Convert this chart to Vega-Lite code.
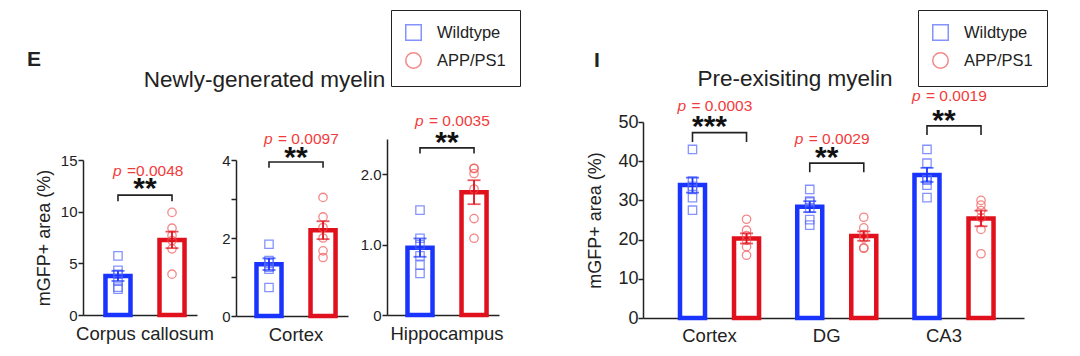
{
  "$schema": "https://vega.github.io/schema/vega-lite/v6.json",
  "background": "white",
  "padding": {"left": 27, "top": 9, "right": 5, "bottom": 5},
  "bounds": "flush",
  "spacing": 39,
  "config": {
    "font": "Liberation Sans",
    "view": {"stroke": null},
    "axis": {"grid": false, "labelOverlap": false, "domainColor": "#222", "domainWidth": 1.5, "tickColor": "#222", "tickWidth": 1.5, "tickSize": 5, "labelColor": "#222", "titleColor": "#222", "labelFont": "Liberation Sans", "titleFont": "Liberation Sans", "titleFontWeight": "normal"},
    "title": {"color": "#222", "font": "Liberation Sans"},
    "legend": {"strokeColor": "#222", "padding": 14, "symbolSize": 240, "symbolStrokeWidth": 1.5, "labelFontSize": 16.5, "labelColor": "#222", "labelFont": "Liberation Sans", "labelOffset": 15, "rowPadding": 5}
  },
  "resolve": {"scale": {"color": "independent", "shape": "independent", "stroke": "independent", "fill": "independent"}, "legend": {"color": "independent", "shape": "independent"}},
  "datasets": {
    "pts": [
      {"panel": "E1", "region": "Corpus callosum", "genotype": "Wildtype", "value": 5.72},
      {"panel": "E1", "region": "Corpus callosum", "genotype": "Wildtype", "value": 4.33},
      {"panel": "E1", "region": "Corpus callosum", "genotype": "Wildtype", "value": 3.94},
      {"panel": "E1", "region": "Corpus callosum", "genotype": "Wildtype", "value": 3.3},
      {"panel": "E1", "region": "Corpus callosum", "genotype": "Wildtype", "value": 2.7},
      {"panel": "E1", "region": "Corpus callosum", "genotype": "Wildtype", "value": 2.5},
      {"panel": "E1", "region": "Corpus callosum", "genotype": "APP/PS1", "value": 9.93},
      {"panel": "E1", "region": "Corpus callosum", "genotype": "APP/PS1", "value": 8.4},
      {"panel": "E1", "region": "Corpus callosum", "genotype": "APP/PS1", "value": 7.7},
      {"panel": "E1", "region": "Corpus callosum", "genotype": "APP/PS1", "value": 7.2},
      {"panel": "E1", "region": "Corpus callosum", "genotype": "APP/PS1", "value": 6.4},
      {"panel": "E1", "region": "Corpus callosum", "genotype": "APP/PS1", "value": 3.95},
      {"panel": "E2", "region": "Cortex", "genotype": "Wildtype", "value": 1.84},
      {"panel": "E2", "region": "Cortex", "genotype": "Wildtype", "value": 1.42},
      {"panel": "E2", "region": "Cortex", "genotype": "Wildtype", "value": 1.35},
      {"panel": "E2", "region": "Cortex", "genotype": "Wildtype", "value": 1.25},
      {"panel": "E2", "region": "Cortex", "genotype": "Wildtype", "value": 1.2},
      {"panel": "E2", "region": "Cortex", "genotype": "Wildtype", "value": 0.73},
      {"panel": "E2", "region": "Cortex", "genotype": "APP/PS1", "value": 3.04},
      {"panel": "E2", "region": "Cortex", "genotype": "APP/PS1", "value": 2.54},
      {"panel": "E2", "region": "Cortex", "genotype": "APP/PS1", "value": 2.27},
      {"panel": "E2", "region": "Cortex", "genotype": "APP/PS1", "value": 2.0},
      {"panel": "E2", "region": "Cortex", "genotype": "APP/PS1", "value": 1.67},
      {"panel": "E2", "region": "Cortex", "genotype": "APP/PS1", "value": 1.5},
      {"panel": "E3", "region": "Hippocampus", "genotype": "Wildtype", "value": 1.49},
      {"panel": "E3", "region": "Hippocampus", "genotype": "Wildtype", "value": 1.09},
      {"panel": "E3", "region": "Hippocampus", "genotype": "Wildtype", "value": 1.0},
      {"panel": "E3", "region": "Hippocampus", "genotype": "Wildtype", "value": 0.84},
      {"panel": "E3", "region": "Hippocampus", "genotype": "Wildtype", "value": 0.71},
      {"panel": "E3", "region": "Hippocampus", "genotype": "Wildtype", "value": 0.59},
      {"panel": "E3", "region": "Hippocampus", "genotype": "APP/PS1", "value": 2.085},
      {"panel": "E3", "region": "Hippocampus", "genotype": "APP/PS1", "value": 2.08},
      {"panel": "E3", "region": "Hippocampus", "genotype": "APP/PS1", "value": 2.01},
      {"panel": "E3", "region": "Hippocampus", "genotype": "APP/PS1", "value": 1.79},
      {"panel": "E3", "region": "Hippocampus", "genotype": "APP/PS1", "value": 1.37},
      {"panel": "E3", "region": "Hippocampus", "genotype": "APP/PS1", "value": 1.09},
      {"panel": "I", "region": "Cortex", "genotype": "Wildtype", "value": 43.0},
      {"panel": "I", "region": "Cortex", "genotype": "Wildtype", "value": 34.9},
      {"panel": "I", "region": "Cortex", "genotype": "Wildtype", "value": 33.6},
      {"panel": "I", "region": "Cortex", "genotype": "Wildtype", "value": 32.8},
      {"panel": "I", "region": "Cortex", "genotype": "Wildtype", "value": 30.7},
      {"panel": "I", "region": "Cortex", "genotype": "Wildtype", "value": 27.5},
      {"panel": "I", "region": "Cortex", "genotype": "APP/PS1", "value": 25.2},
      {"panel": "I", "region": "Cortex", "genotype": "APP/PS1", "value": 22.4},
      {"panel": "I", "region": "Cortex", "genotype": "APP/PS1", "value": 21.0},
      {"panel": "I", "region": "Cortex", "genotype": "APP/PS1", "value": 19.8},
      {"panel": "I", "region": "Cortex", "genotype": "APP/PS1", "value": 18.2},
      {"panel": "I", "region": "Cortex", "genotype": "APP/PS1", "value": 16.0},
      {"panel": "I", "region": "DG", "genotype": "Wildtype", "value": 32.8},
      {"panel": "I", "region": "DG", "genotype": "Wildtype", "value": 29.8},
      {"panel": "I", "region": "DG", "genotype": "Wildtype", "value": 29.6},
      {"panel": "I", "region": "DG", "genotype": "Wildtype", "value": 28.1},
      {"panel": "I", "region": "DG", "genotype": "Wildtype", "value": 25.1},
      {"panel": "I", "region": "DG", "genotype": "Wildtype", "value": 23.7},
      {"panel": "I", "region": "DG", "genotype": "APP/PS1", "value": 25.7},
      {"panel": "I", "region": "DG", "genotype": "APP/PS1", "value": 23.0},
      {"panel": "I", "region": "DG", "genotype": "APP/PS1", "value": 21.3},
      {"panel": "I", "region": "DG", "genotype": "APP/PS1", "value": 20.4},
      {"panel": "I", "region": "DG", "genotype": "APP/PS1", "value": 17.9},
      {"panel": "I", "region": "DG", "genotype": "APP/PS1", "value": 17.8},
      {"panel": "I", "region": "CA3", "genotype": "Wildtype", "value": 43.0},
      {"panel": "I", "region": "CA3", "genotype": "Wildtype", "value": 39.5},
      {"panel": "I", "region": "CA3", "genotype": "Wildtype", "value": 35.3},
      {"panel": "I", "region": "CA3", "genotype": "Wildtype", "value": 35.2},
      {"panel": "I", "region": "CA3", "genotype": "Wildtype", "value": 33.9},
      {"panel": "I", "region": "CA3", "genotype": "Wildtype", "value": 30.7},
      {"panel": "I", "region": "CA3", "genotype": "APP/PS1", "value": 30.0},
      {"panel": "I", "region": "CA3", "genotype": "APP/PS1", "value": 28.8},
      {"panel": "I", "region": "CA3", "genotype": "APP/PS1", "value": 27.4},
      {"panel": "I", "region": "CA3", "genotype": "APP/PS1", "value": 25.6},
      {"panel": "I", "region": "CA3", "genotype": "APP/PS1", "value": 22.6},
      {"panel": "I", "region": "CA3", "genotype": "APP/PS1", "value": 16.4}
    ],
    "bars": [
      {"panel": "E1", "region": "Corpus callosum", "genotype": "Wildtype", "mean": 3.78, "lo": 3.29, "hi": 4.27},
      {"panel": "E1", "region": "Corpus callosum", "genotype": "APP/PS1", "mean": 7.27, "lo": 6.47, "hi": 8.07},
      {"panel": "E2", "region": "Cortex", "genotype": "Wildtype", "mean": 1.33, "lo": 1.18, "hi": 1.48},
      {"panel": "E2", "region": "Cortex", "genotype": "APP/PS1", "mean": 2.2, "lo": 1.97, "hi": 2.43},
      {"panel": "E3", "region": "Hippocampus", "genotype": "Wildtype", "mean": 0.957, "lo": 0.827, "hi": 1.087},
      {"panel": "E3", "region": "Hippocampus", "genotype": "APP/PS1", "mean": 1.744, "lo": 1.574, "hi": 1.914},
      {"panel": "I", "region": "Cortex", "genotype": "Wildtype", "mean": 33.9, "lo": 32.0, "hi": 35.8},
      {"panel": "I", "region": "Cortex", "genotype": "APP/PS1", "mean": 20.3, "lo": 19.0, "hi": 21.6},
      {"panel": "I", "region": "DG", "genotype": "Wildtype", "mean": 28.4, "lo": 27.0, "hi": 29.8},
      {"panel": "I", "region": "DG", "genotype": "APP/PS1", "mean": 20.9, "lo": 19.7, "hi": 22.1},
      {"panel": "I", "region": "CA3", "genotype": "Wildtype", "mean": 36.5, "lo": 34.7, "hi": 38.3},
      {"panel": "I", "region": "CA3", "genotype": "APP/PS1", "mean": 25.4, "lo": 23.4, "hi": 27.4}
    ],
    "brk": [
      {"panel": "E1", "region": "Corpus callosum", "genotype": "Wildtype", "y": 11.0, "ord": 0},
      {"panel": "E1", "region": "Corpus callosum", "genotype": "Wildtype", "y": 11.6, "ord": 1},
      {"panel": "E1", "region": "Corpus callosum", "genotype": "APP/PS1", "y": 11.6, "ord": 2},
      {"panel": "E1", "region": "Corpus callosum", "genotype": "APP/PS1", "y": 11.0, "ord": 3},
      {"panel": "E2", "region": "Cortex", "genotype": "Wildtype", "y": 3.8, "ord": 0},
      {"panel": "E2", "region": "Cortex", "genotype": "Wildtype", "y": 3.95, "ord": 1},
      {"panel": "E2", "region": "Cortex", "genotype": "APP/PS1", "y": 3.95, "ord": 2},
      {"panel": "E2", "region": "Cortex", "genotype": "APP/PS1", "y": 3.8, "ord": 3},
      {"panel": "E3", "region": "Hippocampus", "genotype": "Wildtype", "y": 2.295, "ord": 0},
      {"panel": "E3", "region": "Hippocampus", "genotype": "Wildtype", "y": 2.374, "ord": 1},
      {"panel": "E3", "region": "Hippocampus", "genotype": "APP/PS1", "y": 2.374, "ord": 2},
      {"panel": "E3", "region": "Hippocampus", "genotype": "APP/PS1", "y": 2.295, "ord": 3},
      {"panel": "I", "region": "Cortex", "genotype": "Wildtype", "y": 44.9, "ord": 0},
      {"panel": "I", "region": "Cortex", "genotype": "Wildtype", "y": 47.3, "ord": 1},
      {"panel": "I", "region": "Cortex", "genotype": "APP/PS1", "y": 47.3, "ord": 2},
      {"panel": "I", "region": "Cortex", "genotype": "APP/PS1", "y": 44.9, "ord": 3},
      {"panel": "I", "region": "DG", "genotype": "Wildtype", "y": 37.2, "ord": 0},
      {"panel": "I", "region": "DG", "genotype": "Wildtype", "y": 39.5, "ord": 1},
      {"panel": "I", "region": "DG", "genotype": "APP/PS1", "y": 39.5, "ord": 2},
      {"panel": "I", "region": "DG", "genotype": "APP/PS1", "y": 37.2, "ord": 3},
      {"panel": "I", "region": "CA3", "genotype": "Wildtype", "y": 46.7, "ord": 0},
      {"panel": "I", "region": "CA3", "genotype": "Wildtype", "y": 49.0, "ord": 1},
      {"panel": "I", "region": "CA3", "genotype": "APP/PS1", "y": 49.0, "ord": 2},
      {"panel": "I", "region": "CA3", "genotype": "APP/PS1", "y": 46.7, "ord": 3}
    ],
    "lab": [
      {"panel": "E1", "region": "Corpus callosum", "stars": "**", "ys": 12.48, "p": "=0.0048", "yp": 13.45},
      {"panel": "E2", "region": "Cortex", "stars": "**", "ys": 4.13, "p": "= 0.0097", "yp": 4.4},
      {"panel": "E3", "region": "Hippocampus", "stars": "**", "ys": 2.48, "p": "= 0.0035", "yp": 2.68},
      {"panel": "I", "region": "Cortex", "stars": "***", "ys": 49.4, "p": "= 0.0003", "yp": 52.8},
      {"panel": "I", "region": "DG", "stars": "**", "ys": 41.5, "p": "= 0.0029", "yp": 44.4},
      {"panel": "I", "region": "CA3", "stars": "**", "ys": 50.9, "p": "= 0.0019", "yp": 55.4}
    ]
  },
  "hconcat": [
    {
      "width": 114, "height": 193,
      "title": {"text": "E", "anchor": "start", "frame": "group", "dx": -56, "offset": 52, "fontSize": 21, "fontWeight": "bold"},
      "layer": [
        {"data": {"name": "bars"}, "transform": [{"filter": "datum.panel === 'E1'"}],
         "mark": {"type": "bar", "fill": "white", "strokeWidth": 4.5},
         "encoding": {
           "x": {"field": "region", "type": "nominal", "scale": {"paddingInner": 0, "paddingOuter": 0.048, "align": 1}, "axis": {"title": null, "ticks": false, "labelAngle": 0, "labelFontSize": 18.5, "labelPadding": 9}},
           "xOffset": {"field": "genotype", "type": "nominal", "scale": {"domain": ["Wildtype", "APP/PS1"], "paddingInner": 0.537, "paddingOuter": 0.231}},
           "y": {"field": "mean", "type": "quantitative", "scale": {"domain": [0, 15], "range": [193, 38], "nice": false}, "axis": {"values": [0, 5, 10, 15], "labelOverlap": false, "title": "mGFP+ area (%)", "titleFontSize": 18, "titlePadding": 7, "labelFontSize": 15, "labelPadding": 1}},
           "stroke": {"field": "genotype", "type": "nominal", "scale": {"domain": ["APP/PS1", "Wildtype"], "range": ["#e0101c", "#1a34ff"]}, "legend": null}
         }},
        {"data": {"name": "pts"}, "transform": [{"filter": "datum.panel === 'E1'"}],
         "mark": {"type": "point", "filled": false, "size": 70, "strokeWidth": 1.3},
         "encoding": {
           "x": {"field": "region", "type": "nominal"},
           "xOffset": {"field": "genotype", "type": "nominal"},
           "y": {"field": "value", "type": "quantitative"},
           "color": {"field": "genotype", "type": "nominal", "scale": {"domain": ["Wildtype", "APP/PS1"], "range": ["#5266ff", "#f25555"]}, "legend": null},
           "shape": {"field": "genotype", "type": "nominal", "scale": {"domain": ["Wildtype", "APP/PS1"], "range": ["square", "circle"]}, "legend": null}
         }},
        {"data": {"name": "bars"}, "transform": [{"filter": "datum.panel === 'E1'"}],
         "mark": {"type": "rule", "strokeWidth": 1.8},
         "encoding": {
           "x": {"field": "region", "type": "nominal"},
           "xOffset": {"field": "genotype", "type": "nominal"},
           "y": {"field": "lo", "type": "quantitative"}, "y2": {"field": "hi"},
           "stroke": {"field": "genotype", "type": "nominal", "legend": null}
         }},
        {"data": {"name": "bars"}, "transform": [{"filter": "datum.panel === 'E1'"}],
         "mark": {"type": "tick", "size": 13, "thickness": 1.8},
         "encoding": {
           "x": {"field": "region", "type": "nominal"},
           "xOffset": {"field": "genotype", "type": "nominal"},
           "y": {"field": "hi", "type": "quantitative"},
           "fill": {"field": "genotype", "type": "nominal", "scale": {"domain": ["APP/PS1", "Wildtype"], "range": ["#e0101c", "#1a34ff"]}, "legend": null}
         }},
        {"data": {"name": "bars"}, "transform": [{"filter": "datum.panel === 'E1'"}],
         "mark": {"type": "tick", "size": 13, "thickness": 1.8},
         "encoding": {
           "x": {"field": "region", "type": "nominal"},
           "xOffset": {"field": "genotype", "type": "nominal"},
           "y": {"field": "lo", "type": "quantitative"},
           "fill": {"field": "genotype", "type": "nominal", "legend": null}
         }},
        {"data": {"name": "brk"}, "transform": [{"filter": "datum.panel === 'E1'"}],
         "mark": {"type": "line", "color": "#222", "strokeWidth": 1.6},
         "encoding": {
           "x": {"field": "region", "type": "nominal"},
           "xOffset": {"field": "genotype", "type": "nominal"},
           "y": {"field": "y", "type": "quantitative"},
           "detail": {"field": "region"},
           "order": {"field": "ord", "type": "quantitative"}
         }},
        {"data": {"name": "lab"}, "transform": [{"filter": "datum.panel === 'E1'"}],
         "mark": {"type": "text", "fontSize": 30, "fontWeight": "bold", "dy": 12, "baseline": "alphabetic", "align": "center", "color": "#111"},
         "encoding": {"x": {"field": "region", "type": "nominal"}, "y": {"field": "ys", "type": "quantitative"}, "text": {"field": "stars"}}},
        {"data": {"name": "lab"}, "transform": [{"filter": "datum.panel === 'E1'"}],
         "mark": {"type": "text", "fontSize": 15.5, "fontStyle": "italic", "dx": -32, "baseline": "alphabetic", "align": "left", "color": "#f23b3b"},
         "encoding": {"x": {"field": "region", "type": "nominal"}, "y": {"field": "yp", "type": "quantitative"}, "text": {"value": "p"}}},
        {"data": {"name": "lab"}, "transform": [{"filter": "datum.panel === 'E1'"}],
         "mark": {"type": "text", "fontSize": 15.5, "dx": -18, "baseline": "alphabetic", "align": "left", "color": "#f23b3b"},
         "encoding": {"x": {"field": "region", "type": "nominal"}, "y": {"field": "yp", "type": "quantitative"}, "text": {"field": "p"}}}
      ]
    },
    {
      "width": 112, "height": 194,
      "title": {"text": "Newly-generated myelin", "anchor": "middle", "frame": "group", "dx": -27.5, "offset": 31, "fontSize": 22.5, "fontWeight": "normal"},
      "layer": [
        {"data": {"name": "bars"}, "transform": [{"filter": "datum.panel === 'E2'"}],
         "mark": {"type": "bar", "fill": "white", "strokeWidth": 4.5},
         "encoding": {
           "x": {"field": "region", "type": "nominal", "scale": {"paddingInner": 0, "paddingOuter": 0.0385, "align": 1}, "axis": {"title": null, "ticks": false, "labelAngle": 0, "labelFontSize": 18.5, "labelPadding": 9}},
           "xOffset": {"field": "genotype", "type": "nominal", "scale": {"domain": ["Wildtype", "APP/PS1"], "paddingInner": 0.537, "paddingOuter": 0.231}},
           "y": {"field": "mean", "type": "quantitative", "scale": {"domain": [0, 4], "range": [194, 38], "nice": false}, "axis": {"values": [0, 1, 2, 3, 4], "labelOverlap": false, "labelExpr": "datum.value % 2 === 0 ? datum.label : ''", "title": null, "labelFontSize": 15, "labelPadding": 1}},
           "stroke": {"field": "genotype", "type": "nominal", "scale": {"domain": ["APP/PS1", "Wildtype"], "range": ["#e0101c", "#1a34ff"]}, "legend": null}
         }},
        {"data": {"name": "pts"}, "transform": [{"filter": "datum.panel === 'E2'"}],
         "mark": {"type": "point", "filled": false, "size": 70, "strokeWidth": 1.3},
         "encoding": {
           "x": {"field": "region", "type": "nominal"},
           "xOffset": {"field": "genotype", "type": "nominal"},
           "y": {"field": "value", "type": "quantitative"},
           "color": {"field": "genotype", "type": "nominal", "scale": {"domain": ["Wildtype", "APP/PS1"], "range": ["#5266ff", "#f25555"]}, "legend": null},
           "shape": {"field": "genotype", "type": "nominal", "scale": {"domain": ["Wildtype", "APP/PS1"], "range": ["square", "circle"]}, "legend": null}
         }},
        {"data": {"name": "bars"}, "transform": [{"filter": "datum.panel === 'E2'"}],
         "mark": {"type": "rule", "strokeWidth": 1.8},
         "encoding": {
           "x": {"field": "region", "type": "nominal"},
           "xOffset": {"field": "genotype", "type": "nominal"},
           "y": {"field": "lo", "type": "quantitative"}, "y2": {"field": "hi"},
           "stroke": {"field": "genotype", "type": "nominal", "legend": null}
         }},
        {"data": {"name": "bars"}, "transform": [{"filter": "datum.panel === 'E2'"}],
         "mark": {"type": "tick", "size": 13, "thickness": 1.8},
         "encoding": {
           "x": {"field": "region", "type": "nominal"},
           "xOffset": {"field": "genotype", "type": "nominal"},
           "y": {"field": "hi", "type": "quantitative"},
           "fill": {"field": "genotype", "type": "nominal", "scale": {"domain": ["APP/PS1", "Wildtype"], "range": ["#e0101c", "#1a34ff"]}, "legend": null}
         }},
        {"data": {"name": "bars"}, "transform": [{"filter": "datum.panel === 'E2'"}],
         "mark": {"type": "tick", "size": 13, "thickness": 1.8},
         "encoding": {
           "x": {"field": "region", "type": "nominal"},
           "xOffset": {"field": "genotype", "type": "nominal"},
           "y": {"field": "lo", "type": "quantitative"},
           "fill": {"field": "genotype", "type": "nominal", "legend": null}
         }},
        {"data": {"name": "brk"}, "transform": [{"filter": "datum.panel === 'E2'"}],
         "mark": {"type": "line", "color": "#222", "strokeWidth": 1.6},
         "encoding": {
           "x": {"field": "region", "type": "nominal"},
           "xOffset": {"field": "genotype", "type": "nominal"},
           "y": {"field": "y", "type": "quantitative"},
           "detail": {"field": "region"},
           "order": {"field": "ord", "type": "quantitative"}
         }},
        {"data": {"name": "lab"}, "transform": [{"filter": "datum.panel === 'E2'"}],
         "mark": {"type": "text", "fontSize": 30, "fontWeight": "bold", "dy": 12, "baseline": "alphabetic", "align": "center", "color": "#111"},
         "encoding": {"x": {"field": "region", "type": "nominal"}, "y": {"field": "ys", "type": "quantitative"}, "text": {"field": "stars"}}},
        {"data": {"name": "lab"}, "transform": [{"filter": "datum.panel === 'E2'"}],
         "mark": {"type": "text", "fontSize": 15.5, "fontStyle": "italic", "dx": -32, "baseline": "alphabetic", "align": "left", "color": "#f23b3b"},
         "encoding": {"x": {"field": "region", "type": "nominal"}, "y": {"field": "yp", "type": "quantitative"}, "text": {"value": "p"}}},
        {"data": {"name": "lab"}, "transform": [{"filter": "datum.panel === 'E2'"}],
         "mark": {"type": "text", "fontSize": 15.5, "dx": -18, "baseline": "alphabetic", "align": "left", "color": "#f23b3b"},
         "encoding": {"x": {"field": "region", "type": "nominal"}, "y": {"field": "yp", "type": "quantitative"}, "text": {"field": "p"}}}
      ]
    },
    {
      "width": 217, "height": 193,
      "title": {"text": "I", "anchor": "start", "frame": "group", "dx": 207, "offset": -61, "fontSize": 21, "fontWeight": "bold"},
      "layer": [
        {"data": {"name": "bars"}, "transform": [{"filter": "datum.panel === 'E3'"}],
         "mark": {"type": "bar", "fill": "white", "strokeWidth": 4.5},
         "encoding": {
           "x": {"field": "region", "type": "nominal", "scale": {"paddingInner": 0, "paddingOuter": 0.0385, "align": 1, "range": [0, 112]}, "axis": {"title": null, "ticks": false, "labelAngle": 0, "labelFontSize": 18.5, "labelPadding": 9}},
           "xOffset": {"field": "genotype", "type": "nominal", "scale": {"domain": ["Wildtype", "APP/PS1"], "paddingInner": 0.537, "paddingOuter": 0.231}},
           "y": {"field": "mean", "type": "quantitative", "scale": {"domain": [0, 2.5], "range": [193, 17], "nice": false}, "axis": {"values": [0, 0.5, 1, 1.5, 2, 2.5], "labelOverlap": false, "labelExpr": "datum.value === 0 ? '0' : ((datum.value === 1 || datum.value === 2) ? format(datum.value, '.1f') : '')", "title": null, "labelFontSize": 15, "labelPadding": 1}},
           "stroke": {"field": "genotype", "type": "nominal", "scale": {"domain": ["APP/PS1", "Wildtype"], "range": ["#e0101c", "#1a34ff"]}, "legend": null}
         }},
        {"data": {"name": "pts"}, "transform": [{"filter": "datum.panel === 'E3'"}],
         "mark": {"type": "point", "filled": false, "size": 70, "strokeWidth": 1.3},
         "encoding": {
           "x": {"field": "region", "type": "nominal"},
           "xOffset": {"field": "genotype", "type": "nominal"},
           "y": {"field": "value", "type": "quantitative"},
           "color": {"field": "genotype", "type": "nominal", "scale": {"domain": ["Wildtype", "APP/PS1"], "range": ["#5266ff", "#f25555"]}, "legend": {"title": null, "orient": "none", "legendX": 4, "legendY": -112}},
           "shape": {"field": "genotype", "type": "nominal", "scale": {"domain": ["Wildtype", "APP/PS1"], "range": ["square", "circle"]}, "legend": {"title": null, "orient": "none", "legendX": 4, "legendY": -112}}
         }},
        {"data": {"name": "bars"}, "transform": [{"filter": "datum.panel === 'E3'"}],
         "mark": {"type": "rule", "strokeWidth": 1.8},
         "encoding": {
           "x": {"field": "region", "type": "nominal"},
           "xOffset": {"field": "genotype", "type": "nominal"},
           "y": {"field": "lo", "type": "quantitative"}, "y2": {"field": "hi"},
           "stroke": {"field": "genotype", "type": "nominal", "legend": null}
         }},
        {"data": {"name": "bars"}, "transform": [{"filter": "datum.panel === 'E3'"}],
         "mark": {"type": "tick", "size": 13, "thickness": 1.8},
         "encoding": {
           "x": {"field": "region", "type": "nominal"},
           "xOffset": {"field": "genotype", "type": "nominal"},
           "y": {"field": "hi", "type": "quantitative"},
           "fill": {"field": "genotype", "type": "nominal", "scale": {"domain": ["APP/PS1", "Wildtype"], "range": ["#e0101c", "#1a34ff"]}, "legend": null}
         }},
        {"data": {"name": "bars"}, "transform": [{"filter": "datum.panel === 'E3'"}],
         "mark": {"type": "tick", "size": 13, "thickness": 1.8},
         "encoding": {
           "x": {"field": "region", "type": "nominal"},
           "xOffset": {"field": "genotype", "type": "nominal"},
           "y": {"field": "lo", "type": "quantitative"},
           "fill": {"field": "genotype", "type": "nominal", "legend": null}
         }},
        {"data": {"name": "brk"}, "transform": [{"filter": "datum.panel === 'E3'"}],
         "mark": {"type": "line", "color": "#222", "strokeWidth": 1.6},
         "encoding": {
           "x": {"field": "region", "type": "nominal"},
           "xOffset": {"field": "genotype", "type": "nominal"},
           "y": {"field": "y", "type": "quantitative"},
           "detail": {"field": "region"},
           "order": {"field": "ord", "type": "quantitative"}
         }},
        {"data": {"name": "lab"}, "transform": [{"filter": "datum.panel === 'E3'"}],
         "mark": {"type": "text", "fontSize": 30, "fontWeight": "bold", "dy": 12, "baseline": "alphabetic", "align": "center", "color": "#111"},
         "encoding": {"x": {"field": "region", "type": "nominal"}, "y": {"field": "ys", "type": "quantitative"}, "text": {"field": "stars"}}},
        {"data": {"name": "lab"}, "transform": [{"filter": "datum.panel === 'E3'"}],
         "mark": {"type": "text", "fontSize": 15.5, "fontStyle": "italic", "dx": -32, "baseline": "alphabetic", "align": "left", "color": "#f23b3b"},
         "encoding": {"x": {"field": "region", "type": "nominal"}, "y": {"field": "yp", "type": "quantitative"}, "text": {"value": "p"}}},
        {"data": {"name": "lab"}, "transform": [{"filter": "datum.panel === 'E3'"}],
         "mark": {"type": "text", "fontSize": 15.5, "dx": -18, "baseline": "alphabetic", "align": "left", "color": "#f23b3b"},
         "encoding": {"x": {"field": "region", "type": "nominal"}, "y": {"field": "yp", "type": "quantitative"}, "text": {"field": "p"}}}
      ]
    },
    {
      "width": 381, "height": 196,
      "title": {"text": "Pre-exisiting myelin", "anchor": "middle", "frame": "group", "dx": -38.5, "offset": -81, "fontSize": 22.5, "fontWeight": "normal"},
      "layer": [
        {"data": {"name": "bars"}, "transform": [{"filter": "datum.panel === 'I'"}],
         "mark": {"type": "bar", "fill": "white", "strokeWidth": 4.5},
         "encoding": {
           "x": {"field": "region", "type": "nominal", "scale": {"domain": ["Cortex", "DG", "CA3"], "paddingInner": 0.2836, "paddingOuter": 0.2666, "align": 0.392}, "axis": {"title": null, "ticks": false, "labelAngle": 0, "labelFontSize": 18.5, "labelPadding": 8}},
           "xOffset": {"field": "genotype", "type": "nominal", "scale": {"domain": ["Wildtype", "APP/PS1"], "paddingInner": 0.464, "paddingOuter": 0.232}},
           "y": {"field": "mean", "type": "quantitative", "scale": {"domain": [0, 50], "nice": false}, "axis": {"values": [0, 10, 20, 30, 40, 50], "labelOverlap": false, "tickCount": 6, "title": "mGFP+ area (%)", "titleFontSize": 18, "titlePadding": 13, "labelFontSize": 18, "labelPadding": 0}},
           "stroke": {"field": "genotype", "type": "nominal", "scale": {"domain": ["APP/PS1", "Wildtype"], "range": ["#e0101c", "#1a34ff"]}, "legend": null}
         }},
        {"data": {"name": "pts"}, "transform": [{"filter": "datum.panel === 'I'"}],
         "mark": {"type": "point", "filled": false, "size": 70, "strokeWidth": 1.3},
         "encoding": {
           "x": {"field": "region", "type": "nominal"},
           "xOffset": {"field": "genotype", "type": "nominal"},
           "y": {"field": "value", "type": "quantitative"},
           "color": {"field": "genotype", "type": "nominal", "scale": {"domain": ["Wildtype", "APP/PS1"], "range": ["#5266ff", "#f25555"]}, "legend": {"title": null, "orient": "none", "legendX": 275, "legendY": -112}},
           "shape": {"field": "genotype", "type": "nominal", "scale": {"domain": ["Wildtype", "APP/PS1"], "range": ["square", "circle"]}, "legend": {"title": null, "orient": "none", "legendX": 275, "legendY": -112}}
         }},
        {"data": {"name": "bars"}, "transform": [{"filter": "datum.panel === 'I'"}],
         "mark": {"type": "rule", "strokeWidth": 1.8},
         "encoding": {
           "x": {"field": "region", "type": "nominal"},
           "xOffset": {"field": "genotype", "type": "nominal"},
           "y": {"field": "lo", "type": "quantitative"}, "y2": {"field": "hi"},
           "stroke": {"field": "genotype", "type": "nominal", "legend": null}
         }},
        {"data": {"name": "bars"}, "transform": [{"filter": "datum.panel === 'I'"}],
         "mark": {"type": "tick", "size": 13, "thickness": 1.8},
         "encoding": {
           "x": {"field": "region", "type": "nominal"},
           "xOffset": {"field": "genotype", "type": "nominal"},
           "y": {"field": "hi", "type": "quantitative"},
           "fill": {"field": "genotype", "type": "nominal", "scale": {"domain": ["APP/PS1", "Wildtype"], "range": ["#e0101c", "#1a34ff"]}, "legend": null}
         }},
        {"data": {"name": "bars"}, "transform": [{"filter": "datum.panel === 'I'"}],
         "mark": {"type": "tick", "size": 13, "thickness": 1.8},
         "encoding": {
           "x": {"field": "region", "type": "nominal"},
           "xOffset": {"field": "genotype", "type": "nominal"},
           "y": {"field": "lo", "type": "quantitative"},
           "fill": {"field": "genotype", "type": "nominal", "legend": null}
         }},
        {"data": {"name": "brk"}, "transform": [{"filter": "datum.panel === 'I'"}],
         "mark": {"type": "line", "color": "#222", "strokeWidth": 1.6},
         "encoding": {
           "x": {"field": "region", "type": "nominal"},
           "xOffset": {"field": "genotype", "type": "nominal"},
           "y": {"field": "y", "type": "quantitative"},
           "detail": {"field": "region"},
           "order": {"field": "ord", "type": "quantitative"}
         }},
        {"data": {"name": "lab"}, "transform": [{"filter": "datum.panel === 'I'"}],
         "mark": {"type": "text", "fontSize": 30, "fontWeight": "bold", "dy": 12, "baseline": "alphabetic", "align": "center", "color": "#111"},
         "encoding": {"x": {"field": "region", "type": "nominal"}, "y": {"field": "ys", "type": "quantitative"}, "text": {"field": "stars"}}},
        {"data": {"name": "lab"}, "transform": [{"filter": "datum.panel === 'I'"}],
         "mark": {"type": "text", "fontSize": 15.5, "fontStyle": "italic", "dx": -32, "baseline": "alphabetic", "align": "left", "color": "#f23b3b"},
         "encoding": {"x": {"field": "region", "type": "nominal"}, "y": {"field": "yp", "type": "quantitative"}, "text": {"value": "p"}}},
        {"data": {"name": "lab"}, "transform": [{"filter": "datum.panel === 'I'"}],
         "mark": {"type": "text", "fontSize": 15.5, "dx": -18, "baseline": "alphabetic", "align": "left", "color": "#f23b3b"},
         "encoding": {"x": {"field": "region", "type": "nominal"}, "y": {"field": "yp", "type": "quantitative"}, "text": {"field": "p"}}}
      ]
    }
  ]
}
